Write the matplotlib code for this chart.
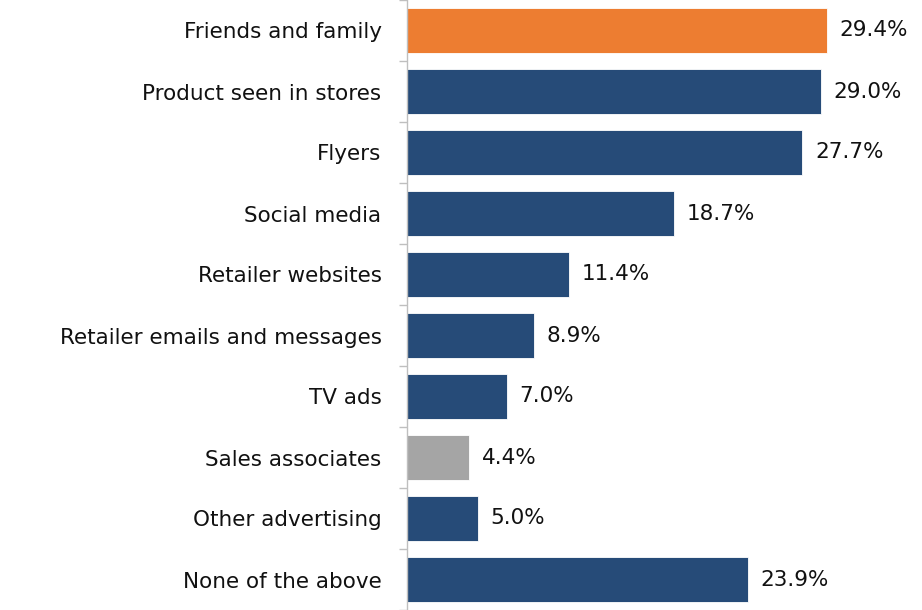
import matplotlib.pyplot as plt
import numpy as np

categories = ["Friends and family", "Product seen in stores", "Flyers", "Social media",
              "Retailer websites", "Retailer emails and messages", "TV ads",
              "Sales associates", "Other advertising", "None of the above"]
values = [29.4, 29.0, 27.7, 18.7, 11.4, 8.9, 7.0, 4.4, 5.0, 23.9]
colors = ["#ED7D31"] + ["#264B78"] * 6 + ["#A5A5A5"] + ["#264B78"] * 2

plt.rcParams['font.family'] = ['DejaVu Sans']

fig = plt.figure(figsize=(9.22, 6.10), dpi=100)
ax = fig.add_axes([406.5 / 922, 0.0, 1 - 406.5 / 922 - 0.002, 1.0])

y = np.arange(len(categories))
bars = ax.barh(y, values, height=0.75, color=colors, edgecolor="white", linewidth=0.6)

for b, v in zip(bars, values):
    ax.annotate(f"{v:.1f}%", (b.get_width(), b.get_y() + b.get_height() / 2),
                xytext=(9, 0), textcoords="offset points", va="center", ha="left",
                fontsize=15.5, color="#111111")

ax.set_ylim(len(categories) - 0.5, -0.5)
ax.set_xlim(0, (920 - 406.5) / 14.29)
ax.set_yticks(y)
ax.set_yticklabels(categories, fontsize=15.5, color="#111111")
ax.tick_params(axis="y", which="major", length=0, pad=18)
ax.set_yticks(np.arange(-0.5, len(categories) + 0.5, 1), minor=True)
ax.tick_params(axis="y", which="minor", length=6, color="#BFBFBF", width=1)
ax.set_xticks([])
for s in ["top", "right", "bottom"]:
    ax.spines[s].set_visible(False)
ax.spines["left"].set_color("#BFBFBF")
ax.spines["left"].set_linewidth(1)

fig.savefig("out.png", dpi=100)
